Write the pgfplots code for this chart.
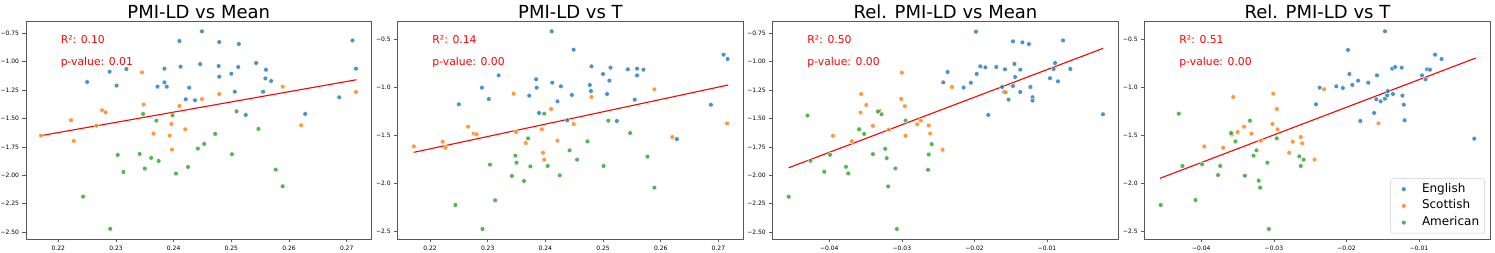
\documentclass[border=0pt]{standalone}
\usepackage{fontspec}
\setmainfont{DejaVu Sans}
\usepackage{pgfplots}
\pgfplotsset{compat=1.18}
\definecolor{tabblue}{HTML}{1F77B4}
\definecolor{taborange}{HTML}{FF7F0E}
\definecolor{tabgreen}{HTML}{2CA02C}
\pgfplotsset{
  panel/.style={scale only axis, width=345.5pt, height=217.3pt, anchor=south west,
    axis line style={black!65, line width=0.7pt},
    tick align=outside, major tick length=3.5pt,
    every tick/.style={black!65, line width=0.6pt},
    xtick pos=left, ytick pos=left,
    tick label style={font=\fontsize{6}{7}\selectfont},
    title style={font=\fontsize{18}{20}\selectfont, at={(0.5,1)}, anchor=base, yshift=-2.6pt},
    scaled ticks=false},
  eng/.style={only marks, mark=*, mark size=2.4pt, mark options={fill=tabblue, fill opacity=0.8, draw=white, line width=0.4pt}},
  sco/.style={only marks, mark=*, mark size=2.4pt, mark options={fill=taborange, fill opacity=0.8, draw=white, line width=0.4pt}},
  ame/.style={only marks, mark=*, mark size=2.4pt, mark options={fill=tabgreen, fill opacity=0.8, draw=white, line width=0.4pt}},
  reg/.style={red, line width=1.1pt, forget plot, no marks},
  xpmi/.style={xmin=0.2144, xmax=0.2743, xtick={0.22,0.23,0.24,0.25,0.26,0.27}, xticklabels={0.22,0.23,0.24,0.25,0.26,0.27}},
  xrel/.style={xmin=-0.0478, xmax=-0.0002, xtick={-0.04,-0.03,-0.02,-0.01}, xticklabels={−0.04,−0.03,−0.02,−0.01}},
  ymean/.style={ymin=-2.560, ymax=-0.647, ytick={-2.5,-2.25,-2,-1.75,-1.5,-1.25,-1,-0.75}, yticklabels={−2.50,−2.25,−2.00,−1.75,−1.50,−1.25,−1.00,−0.75}},
  yt/.style={ymin=-2.579, ymax=-0.320, ytick={-2.5,-2,-1.5,-1,-0.5}, yticklabels={−2.5,−2.0,−1.5,−1.0,−0.5}},
}
\newcommand{\stats}[2]{%
  \node[anchor=base west, text=red, font=\fontsize{10.8}{12}\selectfont, inner sep=0pt, yshift=-21.6pt] at (rel axis cs:0.1,1) {R²: #1};
  \node[anchor=base west, text=red, font=\fontsize{10.8}{12}\selectfont, inner sep=0pt, yshift=-44pt] at (rel axis cs:0.1,1) {p-value: #2};
}
\begin{document}
\begin{tikzpicture}
\path[use as bounding box] (0pt,0pt) rectangle (1495pt,253pt);
% ---------------- Panel 1 ----------------
\begin{axis}[panel, xpmi, ymean, at={(26pt,14pt)}, title={PMI-LD vs Mean}]
\addplot[eng] table {
x y
0.2250 -1.178
0.2289 -1.087
0.2301 -1.210
0.2318 -1.064
0.2372 -1.219
0.2384 -1.061
0.2384 -1.181
0.2388 -1.219
0.2410 -0.817
0.2412 -1.043
0.2421 -1.330
0.2427 -1.228
0.2437 -1.339
0.2446 -1.020
0.2449 -0.732
0.2478 -1.037
0.2479 -1.131
0.2479 -0.826
0.2500 -1.105
0.2506 -1.263
0.2512 -1.046
0.2513 -0.844
0.2525 -1.468
0.2543 -1.011
0.2555 -1.263
0.2559 -1.146
0.2560 -1.070
0.2569 -1.169
0.2628 -1.459
0.2687 -1.313
0.2710 -0.812
0.2716 -1.061
};
\addplot[sco] table {
x y
0.2170 -1.650
0.2222 -1.515
0.2227 -1.697
0.2266 -1.562
0.2276 -1.427
0.2282 -1.445
0.2345 -1.093
0.2348 -1.377
0.2365 -1.632
0.2396 -1.547
0.2393 -1.650
0.2397 -1.773
0.2410 -1.389
0.2420 -1.594
0.2449 -1.328
0.2479 -1.284
0.2589 -1.219
0.2621 -1.559
0.2716 -1.266
};
\addplot[ame] table {
x y
0.2243 -2.187
0.2290 -2.471
0.2303 -1.820
0.2313 -1.970
0.2341 -1.811
0.2347 -1.459
0.2350 -1.940
0.2361 -1.846
0.2370 -1.518
0.2374 -1.873
0.2398 -1.471
0.2404 -1.984
0.2425 -1.926
0.2442 -1.764
0.2453 -1.723
0.2472 -1.635
0.2501 -1.814
0.2509 -1.436
0.2547 -1.591
0.2577 -1.949
0.2589 -2.096
};
\addplot[reg] coordinates {(0.2170,-1.650) (0.2717,-1.158)};
\stats{0.10}{0.01}
\end{axis}
% ---------------- Panel 2 ----------------
\begin{axis}[panel, xpmi, yt, at={(397.7pt,14pt)}, title={PMI-LD vs T}]
\addplot[eng] table {
x y
0.2250 -1.179
0.2290 -1.006
0.2302 -1.124
0.2319 -0.878
0.2372 -1.089
0.2384 -0.919
0.2385 -1.006
0.2389 -1.269
0.2411 -0.420
0.2412 -0.954
0.2421 -1.148
0.2427 -0.992
0.2438 -1.345
0.2446 -1.082
0.2449 -0.611
0.2477 -0.978
0.2479 -1.041
0.2480 -0.784
0.2500 -0.864
0.2507 -1.072
0.2511 -0.933
0.2513 -0.798
0.2524 -1.352
0.2543 -0.815
0.2555 -1.131
0.2559 -0.878
0.2559 -0.808
0.2570 -0.819
0.2628 -1.540
0.2687 -1.183
0.2709 -0.663
0.2716 -0.708
};
\addplot[sco] table {
x y
0.2172 -1.616
0.2222 -1.567
0.2227 -1.630
0.2266 -1.411
0.2276 -1.484
0.2281 -1.491
0.2345 -1.068
0.2349 -1.467
0.2366 -1.581
0.2394 -1.439
0.2396 -1.682
0.2398 -1.754
0.2410 -1.228
0.2421 -1.557
0.2449 -1.384
0.2480 -1.103
0.2589 -1.023
0.2620 -1.519
0.2715 -1.377
};
\addplot[ame] table {
x y
0.2244 -2.226
0.2291 -2.475
0.2304 -1.806
0.2313 -2.177
0.2342 -1.924
0.2348 -1.713
0.2350 -1.786
0.2363 -1.976
0.2370 -1.533
0.2374 -1.824
0.2398 -1.276
0.2404 -1.820
0.2425 -1.917
0.2442 -1.657
0.2455 -1.754
0.2473 -1.564
0.2501 -1.820
0.2509 -1.349
0.2547 -1.477
0.2577 -1.723
0.2589 -2.045
};
\addplot[reg] coordinates {(0.2172,-1.678) (0.2717,-0.978)};
\stats{0.14}{0.00}
\end{axis}
% ---------------- Panel 3 ----------------
\begin{axis}[panel, xrel, ymean, at={(772.7pt,14pt)}, title={Rel. PMI-LD vs Mean}]
\addplot[eng] table {
x y
-0.0243 -1.181
-0.0237 -1.090
-0.0215 -1.227
-0.0205 -1.184
-0.0198 -0.735
-0.0197 -1.107
-0.0192 -1.040
-0.0185 -1.049
-0.0181 -1.468
-0.0170 -1.046
-0.0162 -1.222
-0.0159 -1.266
-0.0158 -1.066
-0.0153 -1.333
-0.0147 -0.820
-0.0147 -1.213
-0.0145 -1.019
-0.0144 -1.134
-0.0137 -1.069
-0.0137 -1.266
-0.0134 -0.829
-0.0125 -0.844
-0.0123 -1.222
-0.0120 -1.312
-0.0120 -1.342
-0.0096 -1.145
-0.0091 -1.063
-0.0089 -1.011
-0.0085 -1.172
-0.0078 -0.812
-0.0068 -1.063
-0.0023 -1.462
};
\addplot[sco] table {
x y
-0.0395 -1.652
-0.0369 -1.699
-0.0357 -1.447
-0.0356 -1.283
-0.0349 -1.380
-0.0340 -1.564
-0.0331 -1.430
-0.0318 -1.597
-0.0300 -1.096
-0.0301 -1.327
-0.0296 -1.391
-0.0295 -1.652
-0.0279 -1.550
-0.0274 -1.517
-0.0263 -1.561
-0.0261 -1.632
-0.0244 -1.775
-0.0231 -1.222
-0.0157 -1.268
};
\addplot[ame] table {
x y
-0.0456 -2.188
-0.0430 -1.473
-0.0426 -1.872
-0.0407 -1.968
-0.0399 -1.819
-0.0377 -1.925
-0.0374 -1.983
-0.0359 -1.594
-0.0352 -1.635
-0.0340 -1.813
-0.0333 -1.438
-0.0328 -1.462
-0.0323 -1.766
-0.0321 -1.848
-0.0319 -2.097
-0.0309 -1.939
-0.0307 -2.472
-0.0295 -1.517
-0.0263 -1.816
-0.0264 -1.951
-0.0259 -1.725
};
\addplot[reg] coordinates {(-0.0456,-1.933) (-0.0023,-0.882)};
\stats{0.50}{0.00}
\end{axis}
% ---------------- Panel 4 ----------------
\begin{axis}[panel, xrel, yt, at={(1144.7pt,14pt)}, title={Rel. PMI-LD vs T},
  legend style={at={(1,0)}, anchor=south east, xshift=-5.4pt, yshift=5.7pt,
    draw=black!20, rounded corners=2.5pt, fill=white, fill opacity=0.8, text opacity=1,
    font=\fontsize{12}{14}\selectfont, inner xsep=3.5pt, inner ysep=2.5pt,
    row sep=0.7pt, column sep=12pt,
    nodes={inner sep=2pt, text height=9pt, text depth=3pt}},
  legend cell align=left,
  legend image code/.code={\path (-9.5pt,0pt) (4pt,0pt); \draw[mark repeat=2,mark phase=2,#1] plot coordinates {(-1pt,0pt) (0pt,0pt) (1pt,0pt)};}]
\addplot[eng] table {
x y
-0.0242 -1.179
-0.0237 -1.006
-0.0214 -0.992
-0.0205 -1.009
-0.0198 -0.614
-0.0196 -0.864
-0.0192 -0.978
-0.0184 -0.933
-0.0181 -1.352
-0.0170 -0.954
-0.0162 -1.269
-0.0158 -0.878
-0.0159 -1.127
-0.0153 -1.148
-0.0147 -1.120
-0.0147 -0.420
-0.0144 -1.086
-0.0143 -1.041
-0.0136 -1.072
-0.0137 -0.808
-0.0133 -0.791
-0.0124 -0.798
-0.0123 -1.089
-0.0121 -1.183
-0.0120 -1.345
-0.0096 -0.878
-0.0091 -0.919
-0.0089 -0.815
-0.0085 -0.819
-0.0078 -0.663
-0.0069 -0.708
-0.0024 -1.536
};
\addlegendentry{English}
\addplot[sco] table {
x y
-0.0396 -1.616
-0.0370 -1.630
-0.0358 -1.494
-0.0356 -1.103
-0.0350 -1.467
-0.0341 -1.411
-0.0331 -1.484
-0.0318 -1.557
-0.0301 -1.068
-0.0302 -1.384
-0.0296 -1.228
-0.0295 -1.439
-0.0279 -1.682
-0.0274 -1.567
-0.0263 -1.519
-0.0261 -1.585
-0.0244 -1.754
-0.0231 -1.023
-0.0156 -1.377
};
\addlegendentry{Scottish}
\addplot[ame] table {
x y
-0.0456 -2.226
-0.0431 -1.276
-0.0426 -1.820
-0.0408 -2.174
-0.0399 -1.803
-0.0377 -1.914
-0.0374 -1.820
-0.0359 -1.477
-0.0353 -1.564
-0.0340 -1.921
-0.0333 -1.349
-0.0328 -1.713
-0.0324 -1.657
-0.0321 -1.973
-0.0319 -2.045
-0.0309 -1.786
-0.0307 -2.475
-0.0296 -1.533
-0.0265 -1.720
-0.0263 -1.820
-0.0259 -1.754
};
\addlegendentry{American}
\addplot[reg] coordinates {(-0.0457,-1.948) (-0.0022,-0.698)};
\stats{0.51}{0.00}
\end{axis}
\end{tikzpicture}
\end{document}
